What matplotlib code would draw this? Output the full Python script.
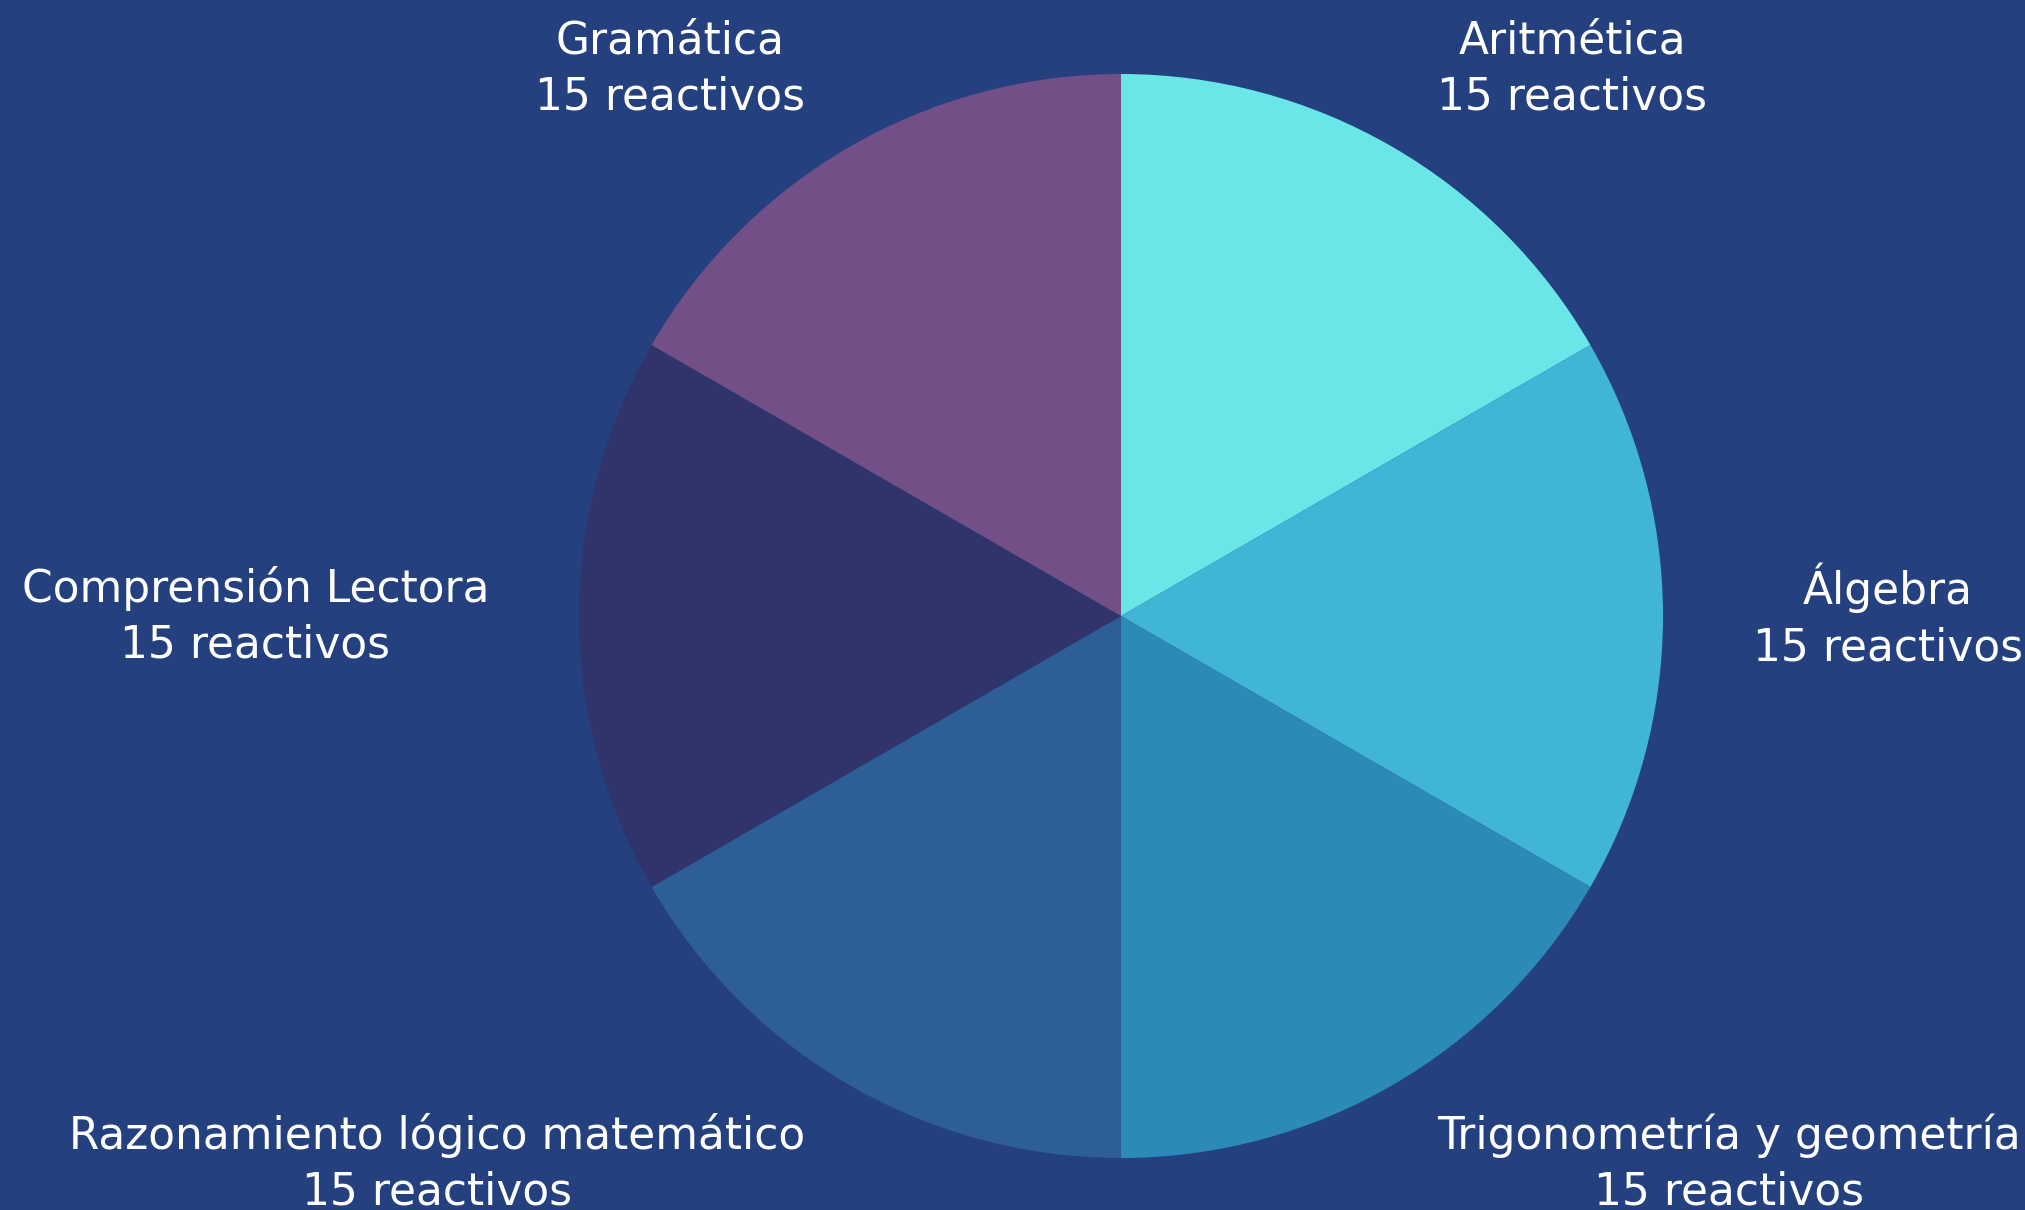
import matplotlib
matplotlib.use('Agg')
import matplotlib.pyplot as plt

# Data
temas = ['Aritmética', 'Álgebra', 'Trigonometría y geometría',
         'Razonamiento lógico matemático', 'Comprensión Lectora', 'Gramática']
reactivos = [15, 15, 15, 15, 15, 15]
colores = ['#6AE5E8', '#40B5D5', '#2C8AB8', '#2D5E96', '#31346B', '#724F87']
fondo = '#24407F'

etiquetas = [t + '\n' + str(n) + ' reactivos' for t, n in zip(temas, reactivos)]

W, H = 2025, 1210
fig = plt.figure(figsize=(W / 100, H / 100), dpi=100, facecolor=fondo)
ax = fig.add_axes([0, 0, 1, 1])
ax.set_facecolor(fondo)

ax.pie(reactivos, labels=etiquetas, colors=colores, startangle=90,
       counterclock=False, labeldistance=1.166, radius=1.0,
       wedgeprops={'linewidth': 0},
       textprops={'color': 'white', 'fontsize': 31.6, 'multialignment': 'center',
                  'linespacing': 1.38, 'family': 'DejaVu Sans'})

# place pie: centre at (1121, 616) px, radius 542 px
r = 542.0
ax.set_xlim(-1121 / r, (W - 1121) / r)
ax.set_ylim(-(H - 616) / r, 616 / r)
ax.set_aspect('equal')
ax.axis('off')

fig.savefig('out.png', dpi=100, facecolor=fondo)
